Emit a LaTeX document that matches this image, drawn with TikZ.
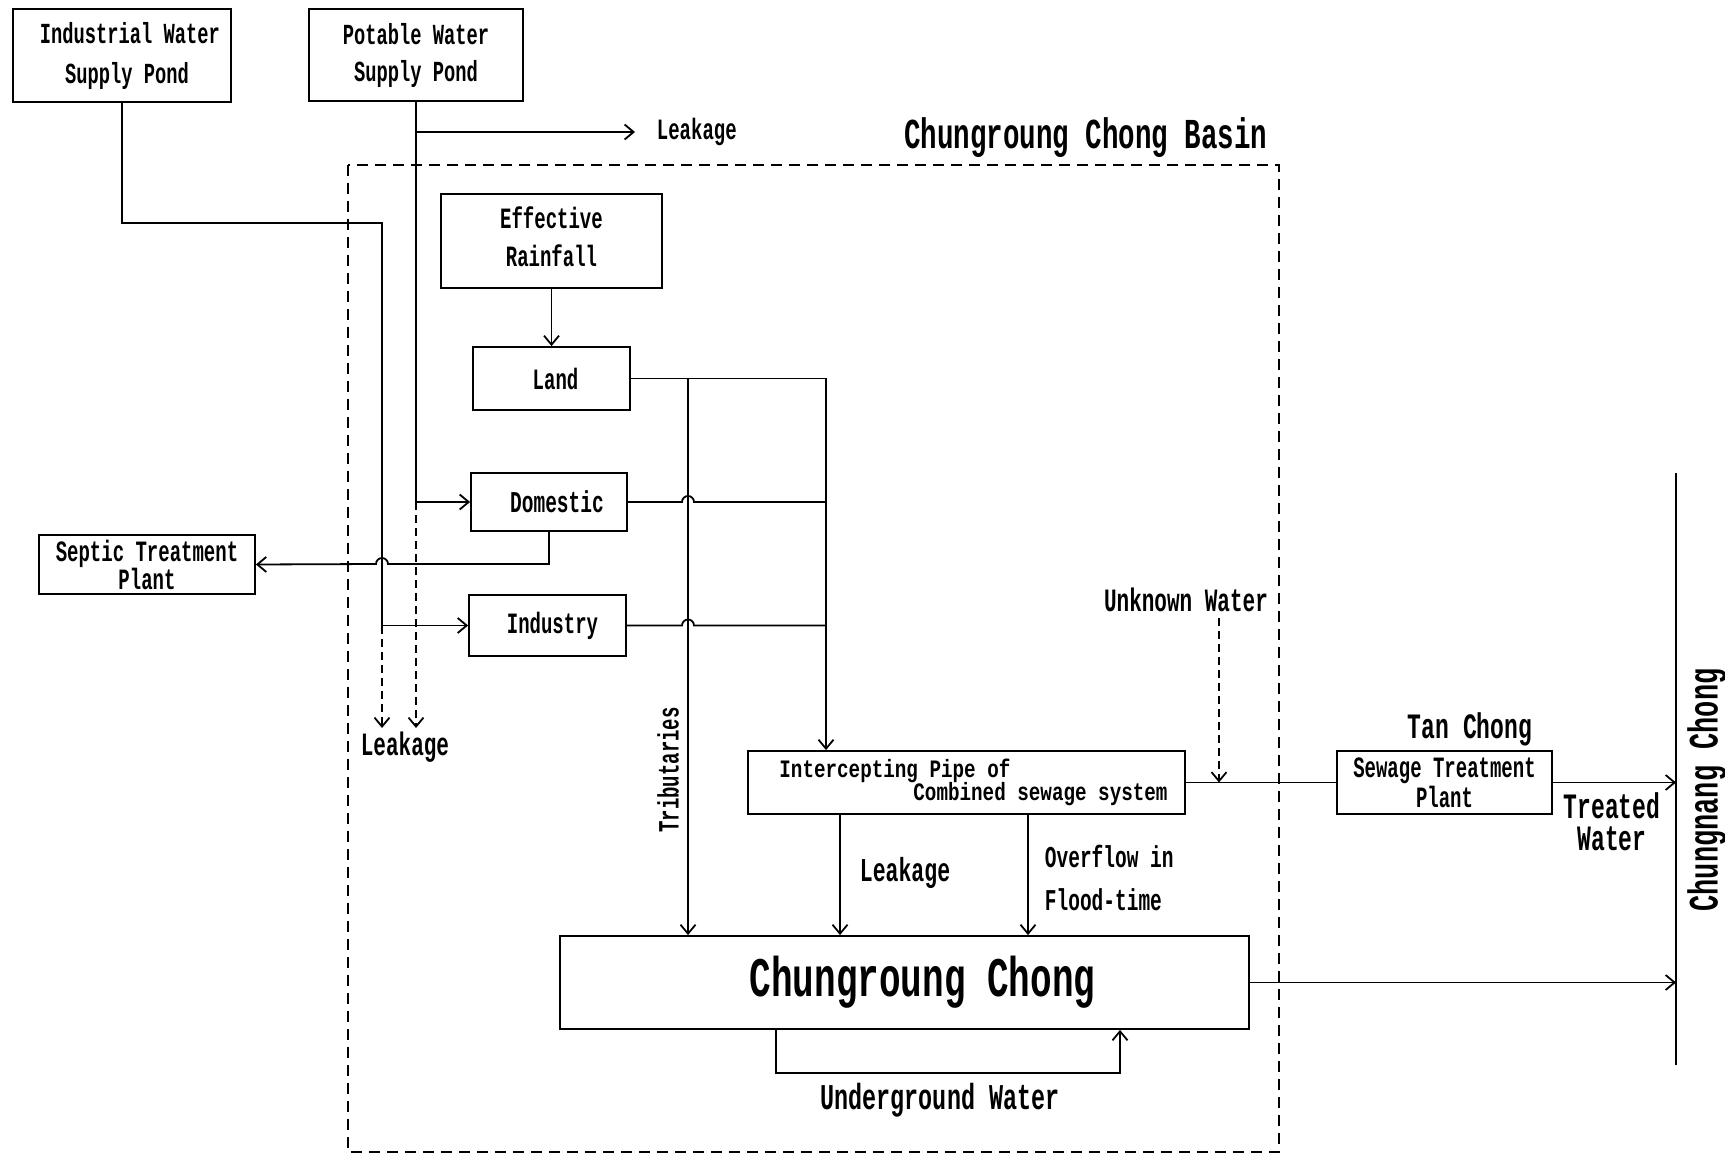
\documentclass[tikz,border=0pt]{standalone}
\usepackage{fontspec}
\usepackage{graphicx}
\setmonofont{Liberation Mono}
\usetikzlibrary{arrows.meta,calc}
\lineskiplimit=-100pt
\newcommand\stre[1]{\scalebox{1}[1.55]{#1}}
\newcommand\streb[1]{\scalebox{1}[1.3]{#1}}
\newcommand\fz[2]{\lineskiplimit=-100pt\fontsize{#1}{#2}\selectfont\ttfamily\bfseries}
\begin{document}
\begin{tikzpicture}[x=1pt,y=-1pt,line width=1.8pt,
  >={Straight Barb[length=9pt,width=15pt]},
  box/.style={draw,rectangle,inner sep=0pt,align=center},
  lab/.style={inner sep=0pt,align=center},
  dsh/.style={dash pattern=on 11pt off 7pt},
  dshs/.style={dash pattern=on 8pt off 5pt}]
\useasboundingbox (0,0) rectangle (1725,1155);
\fill[white] (0,0) rectangle (1725,1155);

% basin
\draw[dsh] (348,165) rectangle (1279,1152);
\node[lab,font=\fz{27.5}{30}] (basin) at (1086,138) {\stre{Chungroung Chong Basin}};

% boxes
\node[box,minimum width=218,minimum height=93,font=\fz{18.75}{40}] (indpond) at (122,55.5) {\hspace*{16pt}\stre{Industrial Water}\\\hspace*{10pt}\stre{Supply Pond}};
\node[box,minimum width=214,minimum height=92,font=\fz{18.75}{37}] (potpond) at (416,55) {\stre{Potable Water}\\\stre{Supply Pond}};
\node[box,minimum width=221,minimum height=94,font=\fz{19}{38}] (rain) at (551.5,241) {\stre{Effective}\\\stre{Rainfall}\\[-29pt]};
\node[box,minimum width=157,minimum height=63,font=\fz{19}{22}] (land) at (551.5,378.5) {\hspace*{8pt}\stre{Land}};
\node[box,minimum width=156,minimum height=58,font=\fz{19.5}{22}] (dom) at (549,502) {\hspace*{16pt}\stre{Domestic}};
\node[box,minimum width=157,minimum height=61,font=\fz{19}{22}] (ind) at (547.5,625.5) {\hspace*{10pt}\stre{Industry}};
\node[box,minimum width=216,minimum height=59,font=\fz{19}{28}] (septic) at (147,564.5) {\stre{Septic Treatment}\\\stre{Plant}};
\node[box,minimum width=437,minimum height=63,align=left,font=\fz{19.25}{23}] (icp) at (966.5,782.5) {\hspace*{14pt}\streb{Intercepting Pipe of}\\\hspace*{148pt}\streb{Combined sewage system}};
\node[box,minimum width=689,minimum height=93,font=\fz{36}{40}] (cc) at (904.5,982.5) {\hspace*{36pt}\stre{Chungroung Chong}};
\node[box,minimum width=215,minimum height=63,font=\fz{19}{30}] (stp) at (1444.5,782.5) {\stre{Sewage Treatment}\\\stre{Plant}};

% labels
\node[lab,anchor=west,font=\fz{19}{22}] (leakTop) at (656,132) {\stre{Leakage}};
\node[lab,font=\fz{21}{24}] (leakLow) at (405,747) {\stre{Leakage}};
\node[lab,rotate=90,font=\fz{19}{22}] (trib) at (668,770) {\stre{Tributaries}};
\node[lab,font=\fz{21.5}{24}] (leakMid) at (905,873) {\stre{Leakage}};
\node[lab,anchor=west,align=left,font=\fz{19.5}{43}] (overflow) at (1044,878) {\stre{Overflow in}\\\stre{Flood-time}};
\node[lab,font=\fz{21}{24}] (unknown) at (1186,600) {\stre{Unknown Water}};
\node[lab,font=\fz{23}{26}] (tanchong) at (1470,729) {\stre{Tan Chong}};
\node[lab,font=\fz{23}{32}] (treated) at (1612,822) {\stre{Treated}\\\stre{Water}};
\node[lab,font=\fz{23.4}{26}] (underground) at (940,1100) {\stre{Underground Water}};
\node[lab,rotate=90,font=\fz{27}{30}] (chungnang) at (1707,790) {\stre{Chungnang Chong}};

% helper coordinates
\coordinate (xI) at (382,0);
\coordinate (xP) at (416,0);
\coordinate (xT) at (688,0);
\coordinate (xL) at (826,0);
\coordinate (xLk) at (840,0);
\coordinate (xOv) at (1028,0);
\coordinate (lkEnd) at (635,132);
\coordinate (cnTop) at (1676,473);
\coordinate (cnBot) at (1676,1065);
\coordinate (unkTop) at (1219,618);
\coordinate (ugL) at (776,1073);
\coordinate (ugR) at (1120,1073);

% supply lines
\draw[->] (indpond.south) |- (382,223) |- (ind.west);
\draw[->] (potpond.south) |- (dom.west);
\draw[->] (potpond.south |- lkEnd) -- (lkEnd);
\draw[->,dshs] (ind.west -| xI) -- (382,728);
\draw[->,dshs] (dom.west -| xP) -- (416,728);

% septic
\draw[->] (dom.south) -- (549,564) -- (388,564) arc (0:180:6pt) -- (septic.east);

% rainfall / land
\draw[->] (rain.south) -- (land.north);
\draw[->] (land.east) -| (icp.north -| xL);
\draw[->] (land.east -| xT) -- (cc.north -| xT);
\draw (dom.east) -- ($(dom.east -| xT)+(-6,0)$) arc (180:0:6pt) -- (dom.east -| xL);
\draw (ind.east) -- ($(ind.east -| xT)+(-6,0)$) arc (180:0:6pt) -- (ind.east -| xL);

% intercepting pipe
\draw[->] (icp.south -| xLk) -- (cc.north -| xLk);
\draw[->] (icp.south -| xOv) -- (cc.north -| xOv);
\draw (icp.east) -- (stp.west);
\draw[->,dshs] (unkTop) -- (unkTop |- icp.east);

% river
\draw (cnTop) -- (cnBot);
\draw[->] (stp.east) -- (stp.east -| cnTop);
\draw[->] (cc.east) -- (cc.east -| cnTop);

% underground
\draw[->] (cc.south -| ugL) -- (ugL) -- (ugR) -- (cc.south -| ugR);
\end{tikzpicture}
\end{document}
